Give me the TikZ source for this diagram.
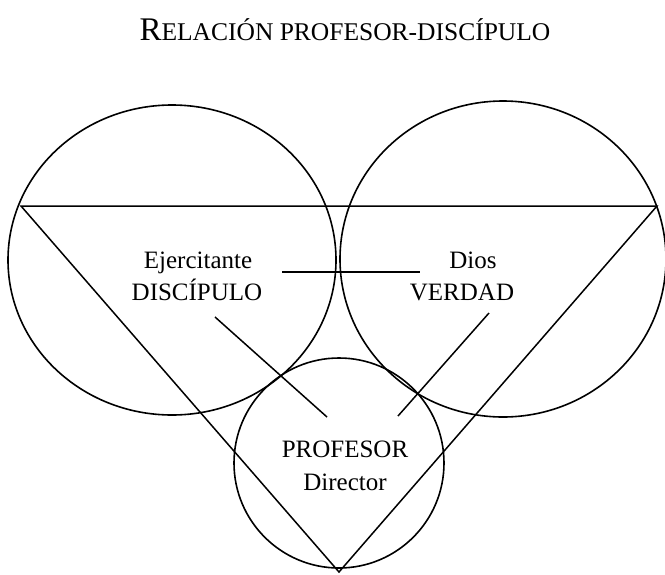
\documentclass[tikz,border=0pt]{standalone}
\usepackage{fontspec}
\setmainfont{Liberation Serif}
\begin{document}
\begin{tikzpicture}[x=1pt,y=-1pt,
    ring/.style={line width=1.6pt},
    edge/.style={line width=1.5pt},
    lbl/.style={font=\fontsize{25}{25}\selectfont, anchor=base, inner sep=0pt}]
	\useasboundingbox (0,0) rectangle (665,574);
	% title
	\node[anchor=base, inner sep=0pt] (title) at (345,40)
		{{\fontsize{33}{33}\selectfont R}{\fontsize{25.5}{25.5}\selectfont ELACIÓN PROFESOR-DISCÍPULO}};
	% circles
	\coordinate (cdisc) at (172,260);
	\coordinate (cver) at (503,259);
	\coordinate (cprof) at (339,463);
	\draw[ring] (cdisc) ellipse [x radius=164, y radius=155];
	\draw[ring] (cver) ellipse [x radius=163, y radius=158];
	\draw[ring] (cprof) circle (105);
	% triangle
	\coordinate (tl) at (21,206);
	\coordinate (tr) at (657,206);
	\coordinate (tb) at (339,572);
	\draw[edge] (tl) -- (tr) -- (tb) -- cycle;
	% labels
	\node[lbl] (ejer) at (198,268) {Ejercitante};
	\node[lbl] (disc) at (197,300) {DISCÍPULO};
	\node[lbl] (dios) at (473,268) {Dios};
	\node[lbl] (ver) at (462,300) {VERDAD};
	\node[lbl] (prof) at (345,457) {PROFESOR};
	\node[lbl] (dir) at (345,490) {Director};
	% inner lines
	\coordinate (ha) at (282,272);
	\coordinate (hb) at (420,272);
	\coordinate (la) at (215,317);
	\coordinate (lb) at (327,417);
	\coordinate (ra) at (489,313);
	\coordinate (rb) at (398,416);
	\draw[edge] (ha) -- (hb);
	\draw[edge] (la) -- (lb);
	\draw[edge] (ra) -- (rb);
\end{tikzpicture}
\end{document}
